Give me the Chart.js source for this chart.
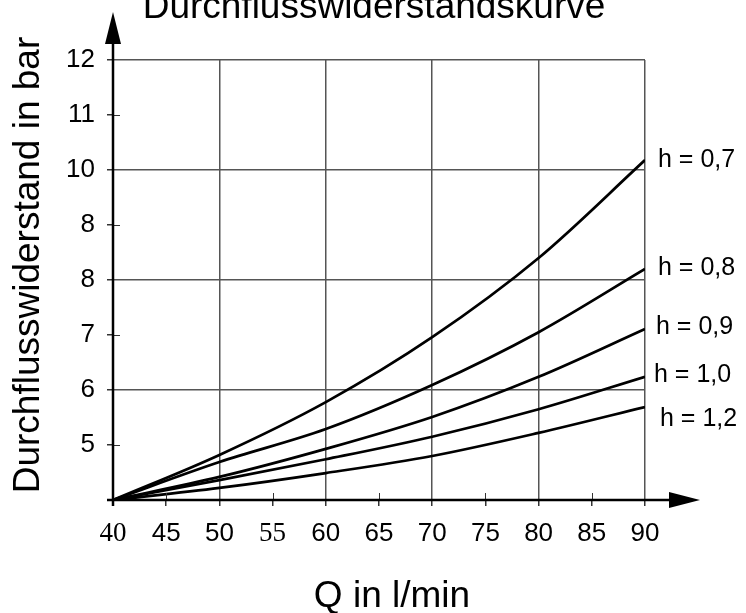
<!DOCTYPE html>
<html>
<head>
<meta charset="utf-8">
<script src="https://cdn.jsdelivr.net/npm/chart.js@4/dist/chart.umd.min.js"></script>
<style>
  html, body { margin: 0; padding: 0; background: #fff; }
  canvas { display: block; }
</style>
</head>
<body>
<canvas id="chart" width="746" height="613"></canvas>
<script>
// Daten
const qValues = [40, 50, 60, 70, 80, 90];
const h07 = [4, 4.82, 5.78, 6.96, 8.4, 10.18];
const h08 = [4, 4.69, 5.29, 6.09, 7.05, 8.2];
const h09 = [4, 4.42, 4.93, 5.51, 6.24, 7.11];
const h10 = [4, 4.36, 4.74, 5.15, 5.65, 6.24];
const h12 = [4, 4.22, 4.49, 4.8, 5.22, 5.69];
const seriesNames = ['h = 0,7', 'h = 0,8', 'h = 0,9', 'h = 1,0', 'h = 1,2'];
const yTickLabels = ['', '5', '6', '7', '8', '8', '10', '11', '12']; // Werte 4..12
const serifTicks = [40, 55];

const title = 'Durchflusswiderstandskurve';
const yTitle = 'Durchflusswiderstand in bar';
const xTitle = 'Q in l/min';

const toPoints = (arr) => arr.map((v, i) => ({ x: qValues[i], y: v }));
const allSeries = [h07, h08, h09, h10, h12];

// Beschriftung der Kurven (Offset relativ zum Kurvenende)
const labelOffsets = [
    { dx: 13, dy: 0 },
    { dx: 13, dy: -1 },
    { dx: 11, dy: -2 },
    { dx: 9, dy: -2 },
    { dx: 15, dy: 12 }
];

const decorations = {
    id: 'decorations',
    afterDraw(chart) {
        const ctx = chart.ctx;
        const xs = chart.scales.x;
        const ys = chart.scales.y;
        const left = xs.getPixelForValue(40);
        const bottom = ys.getPixelForValue(4);

        ctx.save();
        // kurze Striche innen
        ctx.strokeStyle = '#333';
        ctx.lineWidth = 1;
        [5, 7, 9, 11].forEach(v => {
            const y = Math.round(ys.getPixelForValue(v)) + 0.5;
            ctx.beginPath();
            ctx.moveTo(left, y);
            ctx.lineTo(left + 7, y);
            ctx.stroke();
        });
        [45, 55, 65, 75, 85].forEach(v => {
            const x = Math.round(xs.getPixelForValue(v)) + 0.5;
            ctx.beginPath();
            ctx.moveTo(x, bottom);
            ctx.lineTo(x, bottom - 7);
            ctx.stroke();
        });

        // Achsen mit Pfeilen
        ctx.strokeStyle = '#000';
        ctx.fillStyle = '#000';
        ctx.lineWidth = 2.5;
        ctx.beginPath();
        ctx.moveTo(left, bottom + 6);
        ctx.lineTo(left, 40);
        ctx.moveTo(left - 6, bottom);
        ctx.lineTo(672, bottom);
        ctx.stroke();

        ctx.beginPath();
        ctx.moveTo(left, 12);
        ctx.lineTo(left - 8, 44);
        ctx.lineTo(left + 8, 44);
        ctx.closePath();
        ctx.fill();

        ctx.beginPath();
        ctx.moveTo(700, bottom);
        ctx.lineTo(669, bottom - 8);
        ctx.lineTo(669, bottom + 8);
        ctx.closePath();
        ctx.fill();

        // Titel und Achsenbeschriftungen
        ctx.fillStyle = '#000';
        ctx.font = '37px "Liberation Sans", Arial, sans-serif';
        ctx.textAlign = 'center';
        ctx.textBaseline = 'alphabetic';
        ctx.fillText(title, 374, 18);
        ctx.fillText(xTitle, 392, 607);

        ctx.save();
        ctx.translate(29, 265);
        ctx.rotate(-Math.PI / 2);
        ctx.textBaseline = 'middle';
        ctx.fillText(yTitle, 0, 0);
        ctx.restore();

        // Kurvenbeschriftungen
        ctx.font = '25px "Liberation Sans", Arial, sans-serif';
        ctx.textAlign = 'left';
        ctx.textBaseline = 'middle';
        allSeries.forEach((s, i) => {
            const x = xs.getPixelForValue(qValues[qValues.length - 1]);
            const y = ys.getPixelForValue(s[s.length - 1]);
            ctx.fillText(seriesNames[i], x + labelOffsets[i].dx, y + labelOffsets[i].dy);
        });
        ctx.restore();
    }
};

new Chart(document.getElementById('chart'), {
    type: 'line',
    data: {
        datasets: allSeries.map((s, i) => ({
            label: seriesNames[i],
            data: toPoints(s),
            borderColor: '#000',
            borderWidth: 2.7,
            pointRadius: 0,
            fill: false,
            cubicInterpolationMode: 'monotone'
        }))
    },
    options: {
        responsive: false,
        animation: false,
        layout: { padding: { left: 0, top: 60, right: 101, bottom: 0 } },
        plugins: {
            legend: { display: false },
            tooltip: { enabled: false },
            title: { display: false }
        },
        scales: {
            x: {
                type: 'linear',
                min: 40,
                max: 90,
                afterFit: (scale) => { scale.height = 113; },
                border: { display: false },
                grid: {
                    color: (c) => (c.tick && c.tick.value % 10 === 0 && c.tick.value > 40) ? '#555' : 'rgba(0,0,0,0)',
                    tickColor: '#333',
                    tickLength: 6,
                    lineWidth: 1.5
                },
                ticks: {
                    stepSize: 5,
                    color: '#000',
                    padding: 12,
                    maxRotation: 0,
                    font: (c) => (c.tick && serifTicks.includes(c.tick.value))
                        ? { family: '"Liberation Serif", "Times New Roman", serif', size: 27 }
                        : { family: '"Liberation Sans", Arial, sans-serif', size: 26 }
                }
            },
            y: {
                min: 4,
                max: 12,
                afterFit: (scale) => { scale.width = 113; },
                border: { display: false },
                grid: {
                    color: (c) => (c.tick && c.tick.value % 2 === 0 && c.tick.value > 4) ? '#555' : 'rgba(0,0,0,0)',
                    tickColor: '#333',
                    tickLength: 6,
                    lineWidth: 1.5
                },
                ticks: {
                    stepSize: 1,
                    color: '#000',
                    padding: 12,
                    font: { family: '"Liberation Sans", Arial, sans-serif', size: 26 },
                    callback: (value) => yTickLabels[value - 4]
                }
            }
        }
    },
    plugins: [decorations]
});
</script>
</body>
</html>
